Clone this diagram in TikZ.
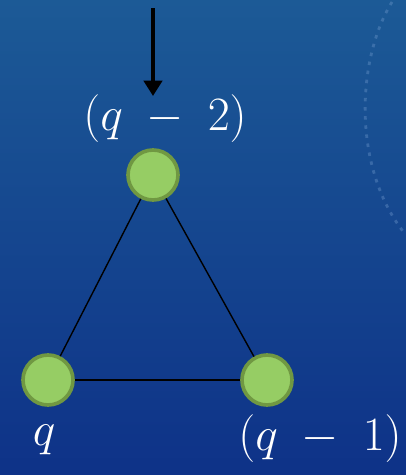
\RequirePackage{fix-cm}
\documentclass[tikz,border=0pt]{standalone}
\usetikzlibrary{arrows.meta}
\definecolor{bgtop}{RGB}{28,90,150}
\definecolor{bgbot}{RGB}{14,50,136}
\definecolor{vfill}{RGB}{150,205,100}
\definecolor{vedge}{RGB}{112,152,66}
\definecolor{arcdot}{RGB}{120,160,210}
\begin{document}
\begin{tikzpicture}[
        x=0.025cm, y=-0.025cm,
        vertex/.style={circle, fill=vfill, draw=vedge, line width=2.6pt, minimum size=1.25cm, inner sep=0pt},
        qlabel/.style={text=white, font=\fontsize{34}{40}\selectfont, inner sep=0pt},
        edge/.style={draw=black, line width=1pt}
    ]
    % background
    \shade[top color=bgtop, bottom color=bgbot] (0,0) rectangle (406,475);
    \useasboundingbox (0,0) rectangle (406,475);
    \draw[arcdot, opacity=0.35, line width=2pt, dash pattern=on 2.5pt off 4pt]
        (392,2) .. controls (356,60) and (352,170) .. (406,235);

    % vertices
    \node[vertex] (top) at (153,175) {};
    \node[vertex] (left) at (48,380) {};
    \node[vertex] (right) at (267,380) {};

    % labels
    \node[qlabel] (ltop) at (165,119) {$(q\;-\;2)$};
    \node[qlabel] (lleft) at (44,440) {$q$};
    \node[qlabel] (lright) at (320,439) {$(q\;-\;1)$};

    % edges
    \draw[edge] (top) -- (left);
    \draw[edge] (top) -- (right);
    \draw[edge] (left) -- (right);

    % incoming arrow
    \coordinate (src) at (153,8);
    \coordinate (dst) at (153,96);
    \draw[line width=3.5pt, -{Triangle[width=13pt, length=11pt]}] (src) -- (dst);
\end{tikzpicture}
\end{document}
